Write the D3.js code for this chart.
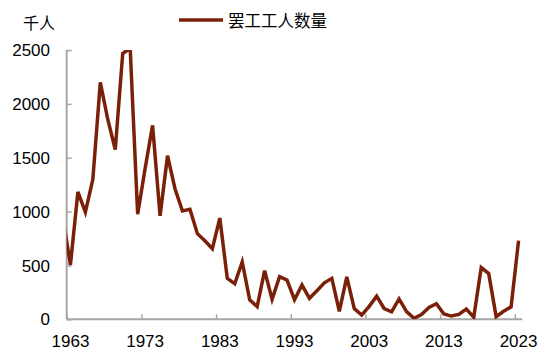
<!DOCTYPE html>
<html><head><meta charset="utf-8">
<script src="https://cdn.jsdelivr.net/npm/d3@7"></script>
<style>
html,body{margin:0;padding:0;background:#fff;}
svg{display:block;}
text{font-family:"Liberation Sans",Arial,"Noto Sans CJK SC",sans-serif;fill:#000;}
.cjk{font-family:"Noto Sans CJK SC","Liberation Sans",sans-serif;}
</style></head>
<body>
<script>
const years = d3.range(1962, 2024);
const workers = [940,505,1183,995,1300,2200,1855,1576,2468,2516,975,1400,1800,960,1519,1212,1006,1021,795,729,656,940,380,330,533,180,118,452,185,395,364,182,318,195,265,339,380,73,394,99,40,120,215,100,70,189,72,10,45,110,145,50,30,45,95,20,480,425,25,75,115,730];
const yTicks = [0,500,1000,1500,2000,2500];
const xLabels = [1963,1973,1983,1993,2003,2013,2023];
const seriesName = "罢工工人数量";
const unitLabel = "千人";

(function(){
const W = 550, H = 358;
const pL = 66.7, pR = 522.3, pT = 50, pB = 319.3;
const color = "#7a2008", axisColor = "#a6a6a6";

const svg = d3.select("body").append("svg").attr("width", W).attr("height", H);

const x = d3.scaleLinear().domain([1962.5, 2023.5]).range([pL, pR]);
const y = d3.scaleLinear().domain([0, 2500]).range([pB, pT]);

svg.append("defs").append("clipPath").attr("id","plot")
  .append("rect").attr("x", pL).attr("y", pT).attr("width", pR-pL).attr("height", pB-pT);

// y axis
const yAxis = d3.axisRight(y).tickValues(yTicks).tickSize(5).tickFormat("");
const gy = svg.append("g").attr("transform", `translate(${pL},0)`).call(yAxis);
gy.select(".domain").remove();
gy.selectAll("line").attr("stroke", axisColor).attr("stroke-width", 1.5);
svg.append("line").attr("x1", pL).attr("x2", pL).attr("y1", pT).attr("y2", pB)
  .attr("stroke", axisColor).attr("stroke-width", 2);

svg.selectAll(".ylab").data(yTicks).enter().append("text")
  .attr("x", 50).attr("y", d => y(d)).attr("dy", "0.36em")
  .attr("text-anchor", "end").style("font-size", "17px").text(d => d);

// x axis
const xTickPos = xLabels.map(d => d - 0.5);
const xAxis = d3.axisTop(x).tickValues(xTickPos).tickSize(5).tickFormat("");
const gx = svg.append("g").attr("transform", `translate(0,${pB})`).call(xAxis);
gx.select(".domain").remove();
gx.selectAll("line").attr("stroke", axisColor).attr("stroke-width", 1.5);
svg.append("line").attr("x1", pL).attr("x2", pR).attr("y1", pB).attr("y2", pB)
  .attr("stroke", axisColor).attr("stroke-width", 2);

svg.selectAll(".xlab").data(xLabels).enter().append("text")
  .attr("x", d => x(d)).attr("y", 347)
  .attr("text-anchor", "middle").style("font-size", "17px").text(d => d);

// line
const line = d3.line().x((d,i) => x(years[i])).y(d => y(d));
svg.append("path").datum(workers).attr("clip-path", "url(#plot)")
  .attr("d", line).attr("fill", "none").attr("stroke", color)
  .attr("stroke-width", 3.5).attr("stroke-linejoin", "miter");

// unit label
svg.append("text").attr("class","cjk").attr("x", 39).attr("y", 29)
  .attr("text-anchor", "middle").style("font-size", "16px").text(unitLabel);

// legend
svg.append("line").attr("x1", 179).attr("x2", 223).attr("y1", 20).attr("y2", 20)
  .attr("stroke", color).attr("stroke-width", 3.5);
svg.append("text").attr("class","cjk").attr("x", 228).attr("y", 26.5)
  .style("font-size", "16.5px").text(seriesName);
})();
</script>
</body></html>
